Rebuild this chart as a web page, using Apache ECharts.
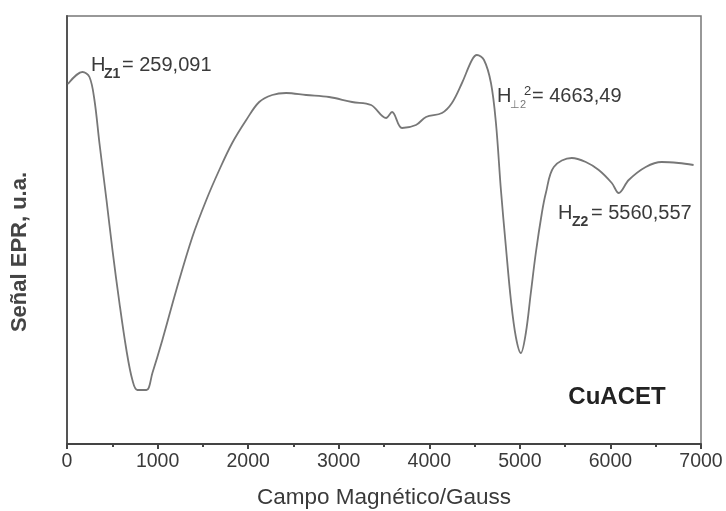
<!DOCTYPE html>
<html>
<head>
<meta charset="utf-8">
<script src="https://cdn.jsdelivr.net/npm/echarts@6/dist/echarts.min.js"></script>
<style>
html,body{margin:0;padding:0;background:#fff;}
#chart{width:726px;height:511px;}
</style>
</head>
<body>
<div id="chart"></div>
<script>
// Magnetic field (Gauss) and EPR signal (arbitrary units)
var fieldG = [10,171,248,303,358,436,502,579,656,722,777,877,943,1053,1207,1384,1538,1681,1824,1979,2122,2266,2420,2640,2894,3148,3357,3523,3589,3699,3853,3964,4140,4250,4361,4471,4526,4604,4681,4736,4791,4846,4901,4956,5011,5066,5121,5176,5243,5287,5375,5573,5728,5871,6015,6092,6202,6390,6566,6753,6918];
var signal = [360,372,367,344,301,244,194,141,94,64,54,54,71,104,154,207,244,274,301,324,342,349,351,349,347,342,339,326,332,316,319,327,331,341,361,384,389,384,361,321,254,197,144,107,91,111,151,191,231,251,277,286,282,274,261,251,264,277,282,281,279];
var xTicks = [0,1000,2000,3000,4000,5000,6000,7000];
var xTitle = 'Campo Magnético/Gauss';
var yTitle = 'Señal EPR, u.a.';
var sampleName = 'CuACET';

var points = fieldG.map(function(f, i){ return [f, signal[i]]; });
var chart = echarts.init(document.getElementById('chart'), null, {renderer:'canvas'});
var ff = '"Liberation Sans", Arial, sans-serif';
var tc = '#3a3a3a';
var option = {
  backgroundColor: '#ffffff',
  animation: false,
  grid: {left: 67, right: 25, top: 16, bottom: 67, show: true, borderColor: '#777', borderWidth: 1.5,
         containLabel: false, outerBoundsMode: 'none'},
  xAxis: {
    type: 'value', min: xTicks[0], max: xTicks[xTicks.length-1], interval: 1000,
    name: xTitle, nameLocation: 'middle', nameGap: 42,
    nameTextStyle: {fontFamily: ff, fontSize: 22.5, color: tc},
    axisLine: {show: true, lineStyle: {color: '#444', width: 2}},
    axisTick: {show: true, length: 5, lineStyle: {color: '#444', width: 2}},
    minorTick: {show: true, splitNumber: 2, length: 3, lineStyle: {color: '#444', width: 2}},
    splitLine: {show: false},
    axisLabel: {fontFamily: ff, fontSize: 19.5, color: tc, margin: 8,
      formatter: function(v){ return xTicks.indexOf(v) >= 0 ? String(v) : ''; }}
  },
  yAxis: {
    type: 'value', min: 0, max: 428,
    axisLine: {show: true, lineStyle: {color: '#555', width: 2}},
    axisTick: {show: false}, axisLabel: {show: false}, splitLine: {show: false}
  },
  series: [{
    type: 'line', data: points, smooth: 0.35, symbol: 'none',
    lineStyle: {color: '#777', width: 1.8}
  }],
  graphic: [
    {type: 'text', x: 20, y: 252, rotation: Math.PI/2,
     style: {text: yTitle, fontFamily: ff, fontSize: 22, fontWeight: 'bold', fill: '#444', align: 'center', verticalAlign: 'middle'}},
    {type: 'text', x: 617, y: 397,
     style: {text: sampleName, fontFamily: ff, fontSize: 24, fontWeight: 'bold', fill: '#222', align: 'center', verticalAlign: 'middle'}},
    // H_Z1 label
    {type: 'text', x: 91, y: 65, style: {text: 'H', fontFamily: ff, fontSize: 20, fill: tc, align: 'left', verticalAlign: 'middle'}},
    {type: 'text', x: 104, y: 74, style: {text: 'Z1', fontFamily: ff, fontSize: 14, fontWeight: 'bold', fill: tc, align: 'left', verticalAlign: 'middle'}},
    {type: 'text', x: 122, y: 65, style: {text: '= 259,091', fontFamily: ff, fontSize: 20, fill: tc, align: 'left', verticalAlign: 'middle'}},
    // H_perp2 label
    {type: 'text', x: 497, y: 96, style: {text: 'H', fontFamily: ff, fontSize: 20, fill: tc, align: 'left', verticalAlign: 'middle'}},
    {type: 'text', x: 510, y: 105, style: {text: '⊥2', fontFamily: ff, fontSize: 11, fill: '#777', align: 'left', verticalAlign: 'middle'}},
    {type: 'text', x: 524, y: 91, style: {text: '2', fontFamily: ff, fontSize: 13, fill: tc, align: 'left', verticalAlign: 'middle'}},
    {type: 'text', x: 532, y: 96, style: {text: '= 4663,49', fontFamily: ff, fontSize: 20, fill: tc, align: 'left', verticalAlign: 'middle'}},
    // H_Z2 label
    {type: 'text', x: 558, y: 213, style: {text: 'H', fontFamily: ff, fontSize: 20, fill: tc, align: 'left', verticalAlign: 'middle'}},
    {type: 'text', x: 572, y: 222, style: {text: 'Z2', fontFamily: ff, fontSize: 14, fontWeight: 'bold', fill: tc, align: 'left', verticalAlign: 'middle'}},
    {type: 'text', x: 591, y: 213, style: {text: '= 5560,557', fontFamily: ff, fontSize: 20, fill: tc, align: 'left', verticalAlign: 'middle'}}
  ]
};
chart.setOption(option);
</script>
</body>
</html>
